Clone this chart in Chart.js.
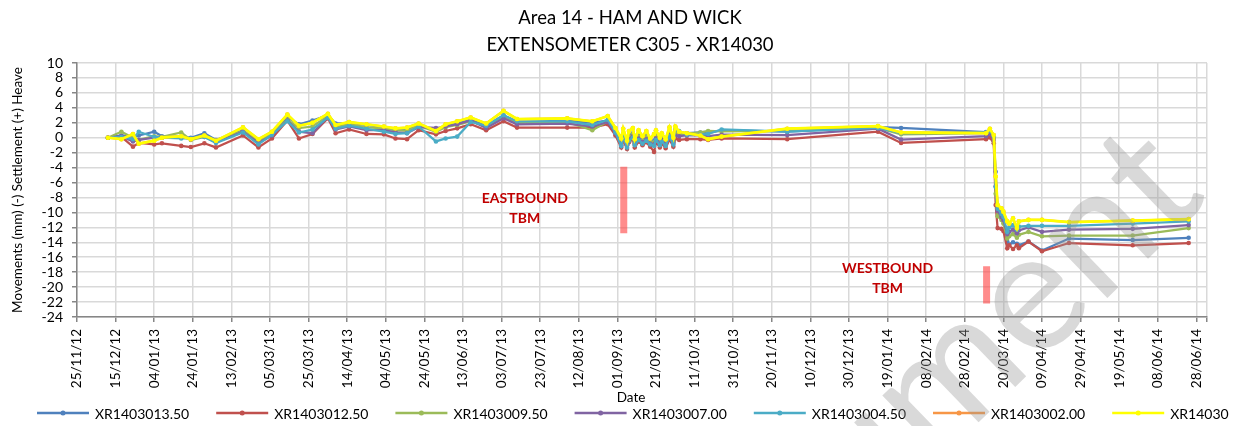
<!DOCTYPE html>
<html><head><meta charset="utf-8">
<script src="https://cdn.jsdelivr.net/npm/chart.js@4.4.0/dist/chart.umd.min.js"></script>
<style>html,body{margin:0;padding:0;background:#fff}#wrap{width:1236px;height:426px}</style>
</head><body><div id="wrap"><canvas id="c" width="1236" height="426"></canvas></div>
<script>
// ---------------- DATA ----------------
const titleLines = ["Area 14 - HAM AND WICK", "EXTENSOMETER C305 - XR14030"];
const yAxisTitle = "Movements (mm) (-) Settlement (+) Heave";
const xAxisTitle = "Date";

const xTickLabels = ["25/11/12","15/12/12","04/01/13","24/01/13","13/02/13","05/03/13","25/03/13","14/04/13","04/05/13","24/05/13","13/06/13","03/07/13","23/07/13","12/08/13","01/09/13","21/09/13","11/10/13","31/10/13","20/11/13","10/12/13","30/12/13","19/01/14","08/02/14","28/02/14","20/03/14","09/04/14","29/04/14","19/05/14","08/06/14","28/06/14"];
const xAxisEnd = "04/07/14";

const dates = ["11/12/12","18/12/12","24/12/12","27/12/12","04/01/13","08/01/13","18/01/13","23/01/13","30/01/13","05/02/13",
"19/02/13","27/02/13","06/03/13","14/03/13","20/03/13","27/03/13","04/04/13","08/04/13","15/04/13","24/04/13",
"03/05/13","09/05/13","15/05/13","21/05/13","30/05/13","04/06/13","10/06/13","17/06/13","25/06/13","04/07/13",
"11/07/13","06/08/13","19/08/13","27/08/13","31/08/13","03/09/13","04/09/13","06/09/13","07/09/13","09/09/13",
"10/09/13","12/09/13","14/09/13","16/09/13","18/09/13","20/09/13","21/09/13","23/09/13","24/09/13","26/09/13",
"28/09/13","30/09/13","01/10/13","03/10/13","07/10/13","14/10/13","18/10/13","25/10/13","28/11/13","14/01/14",
"26/01/14","11/03/14","13/03/14","15/03/14","16/03/14","17/03/14","19/03/14","20/03/14","22/03/14","23/03/14",
"25/03/14","27/03/14","28/03/14","02/04/14","09/04/14","23/04/14","26/05/14","24/06/14"];

const seriesNames = ["XR1403013.50","XR1403012.50","XR1403009.50","XR1403007.00","XR1403004.50","XR1403002.00","XR14030"];

const xr1403013_50 = [0,0.3,0.1,0.3,0.8,0.2,0.1,0.0,0.6,-0.3,
1.0,-0.6,0.6,2.7,1.8,2.3,3.0,1.9,2.0,1.7,
1.4,1.0,1.1,1.7,0.9,1.6,1.9,2.4,1.6,3.0,
2.1,2.3,2.0,2.3,0.9,-0.8,0.5,-0.9,0.2,0.6,
-0.7,0.3,-0.3,0.3,-0.6,-0.4,0.3,-0.5,0.1,-0.7,
0.7,-0.4,0.8,0.5,0.6,0.7,0.6,1.0,0.8,1.4,
1.3,0.75,0.9,0.1,-4.55,-9.5,-10.0,-11.0,-13.9,-14.3,
-14.0,-14.2,-14.4,-13.9,-15.1,-13.5,-13.7,-13.4];

const xr1403012_50 = [0,0.1,-1.2,-0.7,-0.9,-0.75,-1.1,-1.25,-0.75,-1.3,
0.3,-1.3,-0.1,2.3,-0.1,0.5,2.6,0.6,1.1,0.5,
0.45,-0.1,-0.2,1.0,0.45,0.9,1.25,1.8,1.0,2.2,
1.35,1.35,1.35,1.8,0.3,-1.3,-0.3,-1.5,-0.6,-0.2,
-1.3,-0.5,-1.0,-0.6,-1.2,-1.9,-0.6,-1.3,-0.8,-1.4,
-0.2,-1.2,-0.1,-0.3,-0.2,-0.2,-0.3,-0.1,-0.2,0.8,
-0.7,-0.2,0.05,-0.75,-9.0,-12.1,-12.2,-12.5,-14.8,-14.4,
-14.9,-14.4,-14.8,-13.9,-15.2,-14.1,-14.4,-14.1];

const xr1403009_50 = [0,0.8,0.0,-0.3,0.2,0.1,0.7,-0.3,0.1,-0.5,
0.9,-0.4,0.4,2.4,1.3,1.5,2.9,1.4,1.8,1.4,
1.2,1.0,0.9,1.6,0.8,1.4,1.7,2.2,1.5,2.8,
2.0,2.1,1.0,2.2,0.8,-0.7,0.4,-1.1,0.0,0.5,
-0.8,0.1,-0.5,0.1,-0.7,-0.6,0.1,-0.6,-0.1,-0.8,
0.6,-0.5,0.6,0.4,0.5,0.7,0.9,0.85,0.9,1.3,
0.45,0.6,0.8,0.0,-7.5,-10.5,-11.0,-11.5,-13.5,-13.2,
-12.9,-13.4,-13.0,-12.6,-13.2,-13.1,-13.1,-12.1];

const xr1403007_00 = [0,0.2,-0.5,-0.3,0.0,0.0,0.1,-0.2,0.2,-0.6,
0.8,-0.7,0.3,2.3,0.8,0.6,2.8,1.1,1.5,1.0,
1.0,0.7,0.6,1.4,1.3,1.5,1.8,2.3,1.3,2.6,
1.8,1.9,1.5,2.1,0.6,-1.0,0.2,-1.0,-0.2,0.2,
-0.9,-0.1,-0.6,-0.2,-0.8,-0.9,-0.1,-0.8,-0.3,-0.9,
0.3,-0.7,0.3,0.2,0.3,0.3,0.2,0.4,0.35,1.2,
-0.25,0.2,0.5,-0.3,-6.5,-9.8,-10.6,-11.0,-12.9,-12.6,
-12.3,-12.8,-12.4,-12.0,-12.6,-12.3,-12.2,-11.7];

const xr1403004_50 = [0,0.1,-0.2,0.8,0.1,0.0,-0.1,-0.1,0.1,-0.7,
0.7,-0.9,0.4,2.2,0.7,1.1,2.7,1.2,1.6,1.2,
0.8,0.5,0.6,1.5,-0.5,-0.1,0.15,2.1,1.6,3.0,
2.2,2.2,1.7,2.4,0.7,-1.1,0.1,-1.3,-0.4,0.0,
-1.0,-0.3,-0.8,-0.4,-0.9,-1.1,-0.3,-1.0,-0.5,-1.1,
0.2,-0.9,1.1,0.9,0.4,0.4,0.5,1.1,0.8,1.3,
0.6,0.7,0.9,0.2,-6.6,-9.5,-10.2,-10.6,-12.6,-12.0,
-11.7,-12.3,-11.9,-11.8,-11.8,-11.8,-11.5,-11.2];

const xr1403002_00 = [0,-0.2,0.5,-0.8,-0.4,0.0,0.2,-0.2,0.3,-0.4,
1.4,-0.2,0.8,3.1,1.6,2.0,3.2,1.7,2.1,1.8,
1.5,1.25,1.35,1.9,0.9,1.8,2.2,2.7,1.9,3.6,
2.5,2.6,2.2,2.9,1.3,-0.1,1.2,-0.4,0.9,1.3,
-0.2,1.0,0.2,0.9,-0.1,0.5,1.0,0.0,0.6,-0.2,
1.4,0.0,1.5,0.8,0.6,0.3,-0.2,0.15,1.2,1.55,
0.7,0.6,1.2,0.35,-5.2,-9.0,-9.45,-9.9,-11.2,-11.5,
-10.8,-12.1,-11.2,-11.0,-11.0,-11.3,-11.1,-10.9];

const xr14030 = [0,-0.2,0.5,-0.8,-0.4,0.0,0.2,-0.2,0.3,-0.4,
1.4,-0.2,0.8,3.1,1.6,2.0,3.2,1.7,2.1,1.8,
1.5,1.25,1.35,1.9,0.9,1.8,2.2,2.7,1.9,3.6,
2.5,2.6,2.2,2.9,1.3,-0.1,1.2,-0.4,0.9,1.3,
-0.2,1.0,0.2,0.9,-0.1,0.5,1.0,0.0,0.6,-0.2,
1.4,0.0,1.5,0.8,0.6,0.3,-0.2,0.15,1.2,1.55,
0.7,0.6,1.2,0.35,-5.2,-9.0,-9.45,-9.9,-11.2,-11.5,
-10.8,-12.1,-11.2,-11.0,-11.0,-11.3,-11.1,-10.9];

const seriesValues = [xr1403013_50, xr1403012_50, xr1403009_50, xr1403007_00, xr1403004_50, xr1403002_00, xr14030];

// TBM markers: label, date, y range (mm), label position
const tbmLabels = ["EASTBOUND", "WESTBOUND"];
const tbmDates = ["04/09/13", "11/03/14"];
const tbmTop = [-3.9, -17.2];
const tbmBottom = [-12.8, -22.2];
const tbmTextDates = ["15/07/13", "19/01/14"];
const tbmTextY = [-8.2, -17.5];

// ---------------- STYLE ----------------
const colors = ["#4F81BD","#C0504D","#9BBB59","#8064A2","#4BACC6","#F79646","#FFFF00"];
const FONT = "Lato, 'Open Sans', sans-serif";

const ORIGIN = Date.UTC(2012, 10, 25);
function toDay(s){ const p = s.split('/').map(Number); return (Date.UTC(2000+p[2], p[1]-1, p[0]) - ORIGIN)/86400000; }
const dayValues = dates.map(toDay);
const tickDays = xTickLabels.map(toDay);
const endDay = toDay(xAxisEnd) - 0.5;

const datasets = seriesNames.map((name, i) => ({
  label: name,
  data: dayValues.map((d, k) => ({x: d, y: seriesValues[i][k]})),
  borderColor: colors[i],
  backgroundColor: colors[i],
  borderWidth: i === 6 ? 2.75 : 2.25,
  pointRadius: 2.3,
  pointBorderWidth: 0,
  pointBackgroundColor: colors[i],
  tension: 0,
  order: seriesNames.length - i
}));
tbmDates.forEach((dt, i) => {
  const d = toDay(dt) + 0.3;
  datasets.push({
    label: tbmLabels[i] + "_bar",
    data: [{x: d, y: tbmTop[i]}, {x: d, y: tbmBottom[i]}],
    borderColor: 'rgba(255,70,70,0.62)',
    borderWidth: 7,
    pointRadius: 0,
    borderCapStyle: 'butt',
    order: 20
  });
});

const decor = {
  id: 'decor',
  afterDatasetsDraw(chart){
    const c = chart.ctx, xs = chart.scales.x, ys = chart.scales.y;
    c.save();
    c.fillStyle = '#C00000';
    c.font = "bold 14px " + FONT;
    c.textAlign = 'center'; c.textBaseline = 'middle';
    tbmLabels.forEach((t, i) => {
      const px = xs.getPixelForValue(toDay(tbmTextDates[i]));
      const py = ys.getPixelForValue(tbmTextY[i]);
      c.fillText(t, px, py);
      c.fillText("TBM", px, py + 20);
    });
    c.restore();
  },
  afterDraw(chart){
    const c = chart.ctx;
    c.save();
    c.fillStyle = '#000';
    c.textAlign = 'center'; c.textBaseline = 'middle';
    c.font = "18.5px " + FONT;
    c.fillText(titleLines[0], 630, 18);
    c.fillText(titleLines[1], 630, 45);
    // y axis title
    c.font = "13.5px " + FONT;
    c.save();
    c.translate(18, 190); c.rotate(-Math.PI/2);
    c.fillText(yAxisTitle, 0, 0);
    c.restore();
    // x axis title
    c.fillText(xAxisTitle, 631, 398);
    // legend
    c.font = "14px " + FONT;
    c.textAlign = 'left';
    seriesNames.forEach((n, i) => {
      const x0 = 37 + i * 179.2, y0 = 413;
      c.strokeStyle = colors[i]; c.lineWidth = 2.5;
      c.beginPath(); c.moveTo(x0, y0); c.lineTo(x0 + 52, y0); c.stroke();
      c.fillStyle = colors[i];
      c.beginPath(); c.arc(x0 + 26, y0, 2.5, 0, Math.PI*2); c.fill();
      c.fillStyle = '#000';
      c.fillText(n, x0 + 58, y0 + 1);
    });
    // watermark
    c.font = "170px " + FONT;
    const th = 44 * Math.PI / 180;
    const dx = Math.cos(th), dy = -Math.sin(th);
    const ux = -Math.sin(th), uy = -Math.cos(th);
    const fs = 170;
    const bx = 1038 - 0.24*fs*ux, by = 308 - 0.24*fs*uy;
    const off = c.measureText("Docum").width + c.measureText("e").width/2;
    const ox = bx - off*dx, oy = by - off*dy;
    c.translate(ox, oy); c.rotate(-th);
    c.textAlign = 'left'; c.textBaseline = 'alphabetic';
    c.fillStyle = 'rgba(150,150,150,0.36)';
    c.fillText("Document", 0, 0);
    c.restore();
  }
};

new Chart(document.getElementById('c').getContext('2d'), {
  type: 'line',
  data: { datasets },
  options: {
    responsive: false, animation: false, devicePixelRatio: 1,
    layout: { padding: { top: 63, left: 0, right: 29, bottom: 34 } },
    plugins: { legend: { display: false }, title: { display: false }, tooltip: { enabled: false } },
    scales: {
      x: {
        type: 'linear', min: 0, max: endDay,
        afterBuildTicks(s){ s.ticks = tickDays.map(v => ({value: v})).concat([{value: endDay}]); },
        afterFit(s){ s.height = 75; },
        ticks: { autoSkip: false, maxRotation: 90, minRotation: 90, padding: 7, color: '#000',
                 font: { family: FONT, size: 13.5 },
                 callback: (v, i) => i < xTickLabels.length ? xTickLabels[i] : '' },
        grid: { color: '#d9d9d9', lineWidth: 1.5, tickLength: 5, tickColor: '#868686' },
        border: { color: '#868686', width: 1.5 }
      },
      y: {
        min: -24, max: 10,
        afterFit(s){ s.width = 77; },
        ticks: { stepSize: 2, autoSkip: false, padding: 9, color: '#000', font: { family: FONT, size: 14 } },
        grid: { color: '#d9d9d9', lineWidth: 1.5, tickLength: 5, tickColor: '#868686' },
        border: { color: '#868686', width: 1.5 }
      }
    }
  },
  plugins: [decor]
});
</script>
</body></html>
